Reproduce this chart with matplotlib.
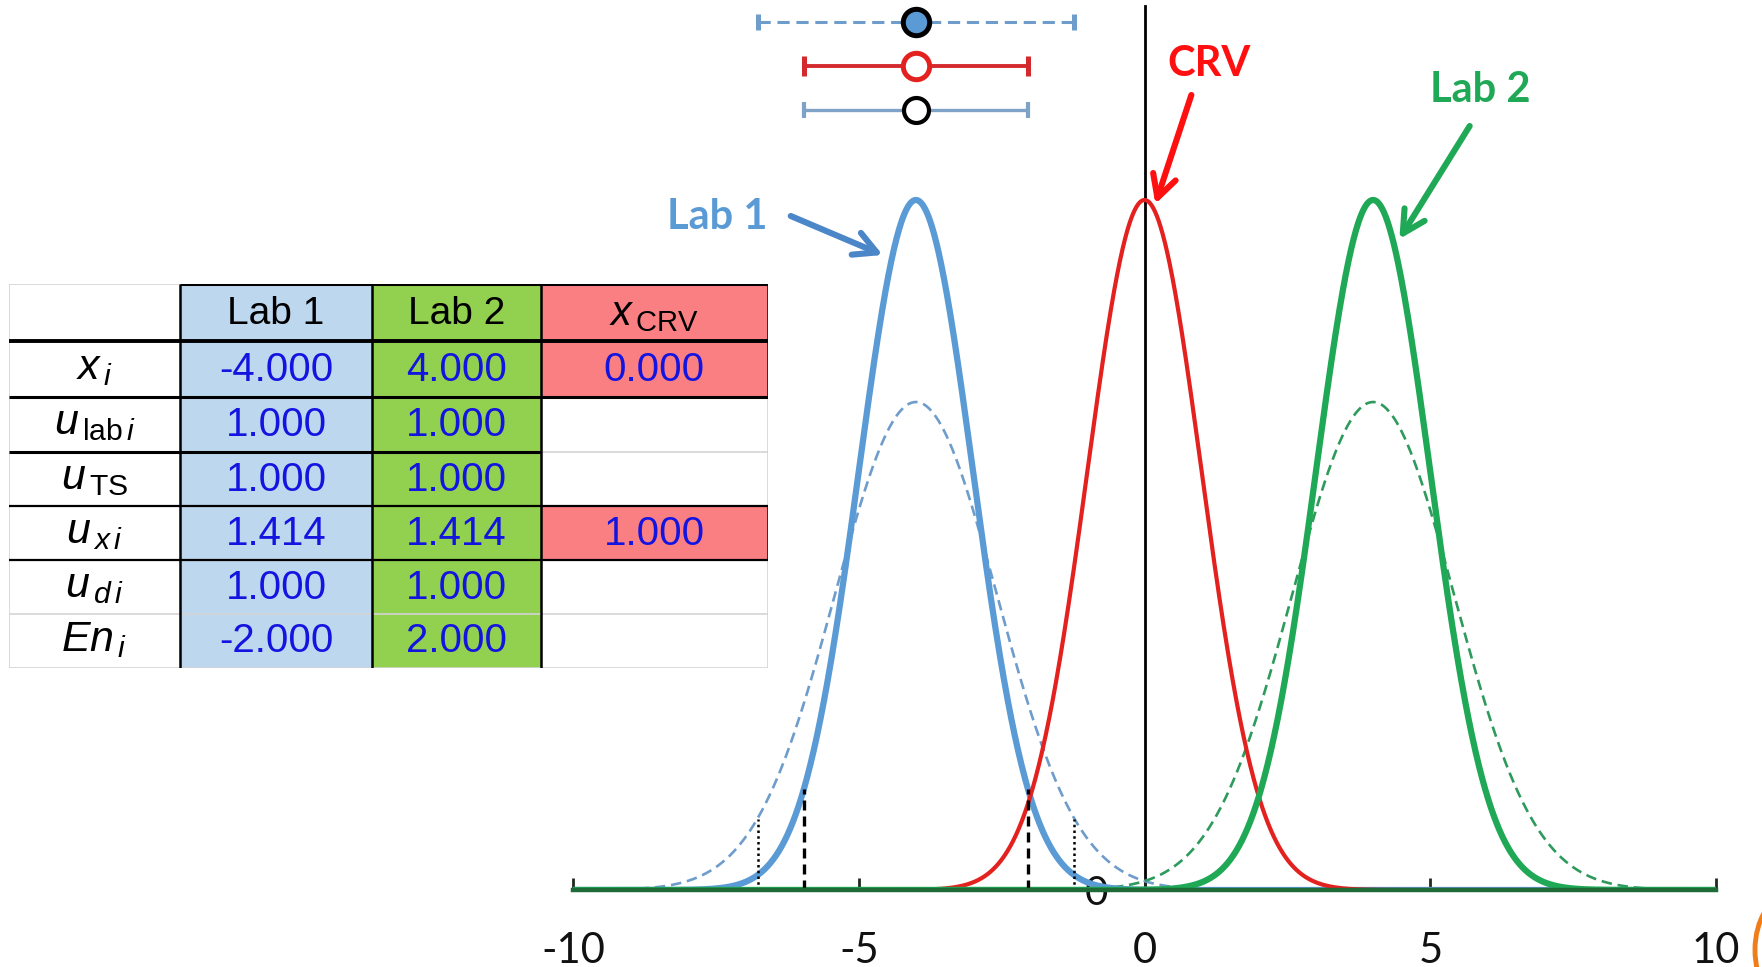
import numpy as np
import matplotlib
matplotlib.use('Agg')
import matplotlib.pyplot as plt
from matplotlib.patches import Rectangle, Ellipse

# ---------------- data ----------------
lab_names = ['Lab 1', 'Lab 2']
x_lab = [-4.0, 4.0]
u_lab = [1.0, 1.0]
u_ts = [1.0, 1.0]
u_x = [1.414, 1.414]
u_d = [1.0, 1.0]
en = [-2.0, 2.0]
x_crv = 0.0
u_crv = 1.0
k_cov = 1.96
x_ticks = [-10, -5, 0, 5, 10]
x_range = [-10, 10]

row_labels = [r'$x_{\,i}$', r'$u_{\,\mathrm{lab}\,i}$', r'$u_{\,\mathrm{TS}}$',
              r'$u_{\,x\,i}$', r'$u_{\,d\,i}$', r'$En_{\,i}$']
col_headers = ['Lab 1', 'Lab 2', r'$x_{\,\mathrm{CRV}}$']

# ---------------- style ----------------
plt.rcParams['font.family'] = ['Lato', 'DejaVu Sans']
plt.rcParams['mathtext.fontset'] = 'custom'
plt.rcParams['mathtext.rm'] = 'Liberation Sans'
plt.rcParams['mathtext.it'] = 'Liberation Sans:italic'

C_LAB1 = '#5B9BD5'
C_LAB1_ARROW = '#4A86C8'
C_LAB1_D = '#6E9CCB'
C_LAB2 = '#1FA855'
C_LAB2_D = '#2E9A5C'
C_CRV = '#E3211F'
C_RED = '#FF1010'
C_BASE = '#1E6B38'

W, H = 1762, 967
fig = plt.figure(figsize=(W / 100, H / 100), dpi=100)

# main axes: x=-10 at 573px, x=10 at 1716px; baseline at 890px, top at 6px
ax = fig.add_axes([573 / W, (H - 890) / H, (1716 - 573) / W, (890 - 6) / H])
peak = 1 / np.sqrt(2 * np.pi)
ytop = peak * (890 - 6) / (890 - 200)
ax.set_xlim(*x_range)
ax.set_ylim(0, ytop)


def pdf(x, m, s):
    return np.exp(-0.5 * ((x - m) / s) ** 2) / (s * np.sqrt(2 * np.pi))


def ypx(px):
    # vertical position given as pixel row in the reference -> data units
    return peak * (890 - px) / 690


xs = np.linspace(x_range[0], x_range[1], 2001)

# dashed (combined uncertainty) curves
ax.plot(xs, pdf(xs, x_lab[0], u_x[0]), color=C_LAB1_D, lw=1.9, ls=(0, (4, 2.2)), zorder=2)
ax.plot(xs, pdf(xs, x_lab[1], u_x[1]), color=C_LAB2_D, lw=1.9, ls=(0, (4, 2.2)), zorder=2)
# solid curves
ax.plot(xs, pdf(xs, x_lab[0], u_lab[0]), color=C_LAB1, lw=4.5, zorder=3)
ax.plot(xs, pdf(xs, x_crv, u_crv), color=C_CRV, lw=3.0, zorder=3)
ax.plot(xs, pdf(xs, x_lab[1], u_lab[1]), color=C_LAB2, lw=4.5, zorder=3)

# coverage interval markers for Lab 1
for sgn in (-1, 1):
    xv = x_lab[0] + sgn * k_cov * u_lab[0]
    ax.vlines(xv, 0, pdf(xv, x_lab[0], u_lab[0]), colors='black', lw=2.4, ls=(0, (3, 1.8)), zorder=4)
    xd = x_lab[0] + sgn * k_cov * u_x[0]
    ax.vlines(xd, 0, pdf(xd, x_lab[0], u_x[0]), colors='black', lw=1.8, ls=(0, (1, 1.3)), zorder=4)

# error bars at top
y_eb = [ypx(22), ypx(66), ypx(110)]
eb1 = ax.errorbar([x_lab[0]], [y_eb[0]], xerr=[k_cov * u_x[0]], fmt='o', ms=19,
                  mfc=C_LAB1, mec='black', mew=3.6, ecolor=C_LAB1_D, elinewidth=2.2,
                  capsize=6, capthick=2.2, zorder=6)
eb1[2][0].set_linestyle((0, (4, 2.2)))
ax.errorbar([x_lab[0]], [y_eb[1]], xerr=[k_cov * u_lab[0]], fmt='o', ms=19,
            mfc='white', mec=C_CRV, mew=3.6, ecolor='#D42A2E', elinewidth=2.8,
            capsize=7, capthick=2.8, zorder=6)
ax.errorbar([x_lab[0]], [y_eb[2]], xerr=[k_cov * u_ts[0]], fmt='o', ms=18,
            mfc='white', mec='black', mew=3, ecolor='#7FA3C6', elinewidth=2.4,
            capsize=6, capthick=2.4, zorder=6)

# axes styling
for s in ('top', 'right'):
    ax.spines[s].set_visible(False)
ax.spines['left'].set_position(('data', 0))
ax.spines['left'].set_color('black')
ax.spines['left'].set_linewidth(2)
ax.spines['left'].set_zorder(1)
ax.spines['bottom'].set_color(C_BASE)
ax.spines['bottom'].set_linewidth(3.2)
ax.spines['bottom'].set_zorder(5)
ax.set_xticks(x_ticks)
ax.set_xticklabels([str(t) for t in x_ticks])
ax.tick_params(axis='x', direction='in', length=9, width=2, color='#1d2b1d',
               labelsize=30, pad=30, labelcolor='#111111')
ax.set_yticks([0])
ax.set_yticklabels(['0'])
ax.tick_params(axis='y', length=0, labelsize=29, pad=26, labelcolor='#111111')
ax.patch.set_alpha(0)

# annotations: label text + arrow
arrow_style = '->,head_length=1.6,head_width=0.85'
labels = [('Lab 1', C_LAB1, C_LAB1_ARROW, (-7.47, ypx(217)), (-6.19, ypx(216)), (-4.58, ypx(255))),
          ('CRV', C_RED, C_RED, (1.12, ypx(64)), (0.82, ypx(95)), (0.19, ypx(204))),
          ('Lab 2', C_LAB2, C_LAB2, (5.88, ypx(90)), (5.69, ypx(126)), (4.46, ypx(239)))]
for txt, col, acol, tpos, a0, a1 in labels:
    ax.text(*tpos, txt, color=col, fontsize=30, fontweight='bold', ha='center', va='center')
    ax.annotate('', xy=a1, xytext=a0,
                arrowprops=dict(arrowstyle=arrow_style, lw=4.4, color=acol,
                                shrinkA=0, shrinkB=0, capstyle='round', joinstyle='round'))

# ---------------- table ----------------
col_edges = [0, 171, 363, 531.5, 758.5]
row_edges = [0, 56.5, 112.7, 167.7, 221.7, 275.6, 329.5, 383.5]
tab = fig.add_axes([9 / W, (H - 667.5) / H, 758.5 / W, 383.5 / H])
tab.set_xlim(0, col_edges[-1])
tab.set_ylim(row_edges[-1], 0)
tab.axis('off')

C_T1 = '#BDD7EE'
C_T2 = '#92D050'
C_T3 = '#FA7F82'
C_TXT = '#1414E0'
C_GRID = '#D4D4D4'

lab1_vals = [x_lab[0], u_lab[0], u_ts[0], u_x[0], u_d[0], en[0]]
lab2_vals = [x_lab[1], u_lab[1], u_ts[1], u_x[1], u_d[1], en[1]]
crv_vals = [x_crv, None, None, u_crv, None, None]
columns = [lab1_vals, lab2_vals, crv_vals]
col_fill = [C_T1, C_T2, None]


def cell_rect(c, r, color):
    tab.add_patch(Rectangle((col_edges[c], row_edges[r]), col_edges[c + 1] - col_edges[c],
                            row_edges[r + 1] - row_edges[r], facecolor=color, edgecolor='none', zorder=1))


# fills
for ci in range(3):
    for ri in range(7):
        if col_fill[ci] is not None:
            cell_rect(ci + 1, ri, col_fill[ci])
        else:
            has = ri == 0 or columns[ci][ri - 1] is not None
            if has:
                cell_rect(ci + 1, ri, C_T3)

# texts
for ci, hdr in enumerate(col_headers):
    cx = (col_edges[ci + 1] + col_edges[ci + 2]) / 2
    cy = (row_edges[0] + row_edges[1]) / 2
    tab.text(cx, cy + 2, hdr, ha='center', va='center', fontsize=28 if ci < 2 else 30,
             family='Liberation Sans', color='black', zorder=3)
for ri, lbl in enumerate(row_labels):
    cy = (row_edges[ri + 1] + row_edges[ri + 2]) / 2
    tab.text((col_edges[0] + col_edges[1]) / 2, cy, lbl, ha='center', va='center',
             fontsize=31, color='black', zorder=3)
    for ci in range(3):
        v = columns[ci][ri]
        if v is None:
            continue
        cx = (col_edges[ci + 1] + col_edges[ci + 2]) / 2
        tab.text(cx, cy + 1, f'{v:.3f}', ha='center', va='center', fontsize=29,
                 family='Liberation Sans', color=C_TXT, zorder=3)

# grid lines (light)
lw_dark, lw_light = 2.2, 1.2
for y in row_edges:
    tab.hlines(y, col_edges[0], col_edges[-1], colors=C_GRID, lw=lw_light, zorder=2)
for x in (col_edges[0], col_edges[-1]):
    tab.vlines(x, row_edges[0], row_edges[-1], colors=C_GRID, lw=lw_light, zorder=2)
# dark borders
tab.hlines(row_edges[0], col_edges[1], col_edges[-1], colors='black', lw=lw_dark, zorder=4)
tab.hlines(row_edges[1], col_edges[0], col_edges[-1], colors='black', lw=lw_dark + 0.6, zorder=4)
tab.hlines(row_edges[2], col_edges[0], col_edges[-1], colors='black', lw=lw_dark, zorder=4)
tab.hlines(row_edges[3], col_edges[0], col_edges[3], colors='black', lw=lw_dark, zorder=4)
tab.hlines(row_edges[4], col_edges[0], col_edges[-1], colors='black', lw=lw_dark - 0.6, zorder=4)
tab.hlines(row_edges[5], col_edges[0], col_edges[-1], colors='black', lw=lw_dark - 0.6, zorder=4)
for x in col_edges[1:4]:
    tab.vlines(x, row_edges[0], row_edges[-1], colors='black', lw=lw_dark - 0.4, zorder=4)
tab.vlines(col_edges[-1], row_edges[0], row_edges[2], colors='black', lw=lw_dark - 0.4, zorder=4)
tab.vlines(col_edges[-1], row_edges[4], row_edges[5], colors='black', lw=lw_dark - 0.4, zorder=4)

# small orange slide decoration at the right edge
fig.add_artist(Ellipse((1790 / W, (H - 950) / H), 70 / W, 110 / H, facecolor='none',
                       edgecolor='#F07D1A', lw=3.5, transform=fig.transFigure))

fig.savefig('out.png', dpi=100, facecolor='white')
